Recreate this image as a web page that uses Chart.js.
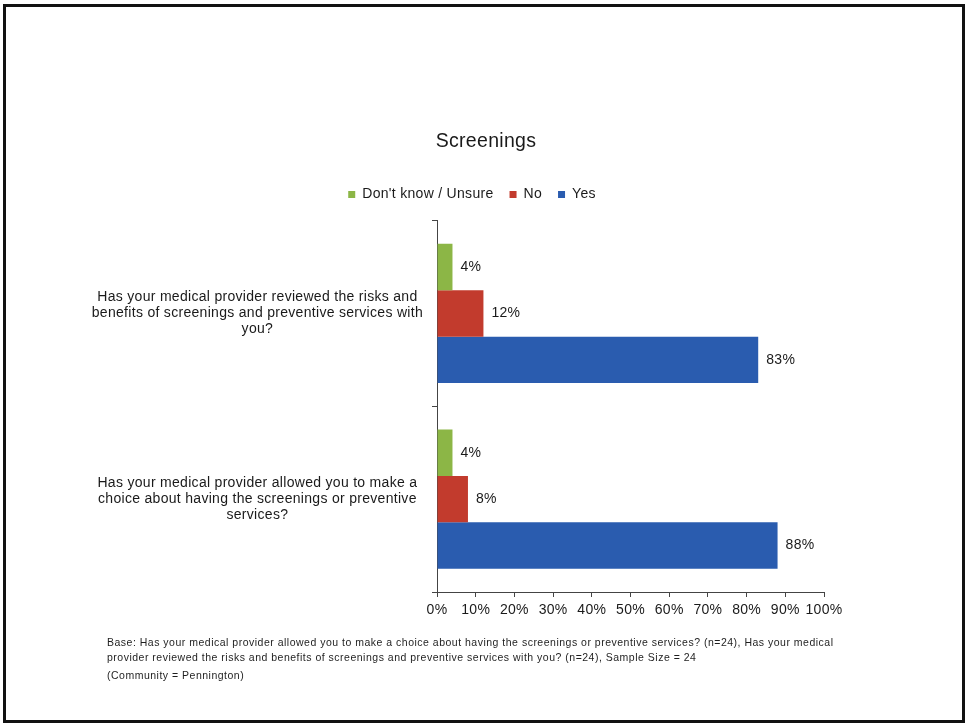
<!DOCTYPE html>
<html>
<head>
<meta charset="utf-8">
<title>Screenings</title>
<script src="https://cdn.jsdelivr.net/npm/chart.js@4.4.0/dist/chart.umd.min.js"></script>
<style>
  html, body { margin: 0; padding: 0; background: #fff; }
  #wrap { position: relative; width: 967px; height: 727px; overflow: hidden; }
  #frame { position: absolute; left: 3px; top: 4px; width: 956px; height: 713px; border: 3px solid #111; }
  #screeningsChart { position: absolute; left: 0; top: 0; }
  .note { position: absolute; left: 107px; font: 10.5px "Liberation Sans", Arial, sans-serif; letter-spacing: 0.5px; color: #1e1e1e; white-space: nowrap; }
</style>
</head>
<body>
<div id="wrap">
  <canvas id="screeningsChart" width="967" height="727"></canvas>
  <div id="frame"></div>
  <div class="note" style="top:636px">Base: Has your medical provider allowed you to make a choice about having the screenings or preventive services? (n=24), Has your medical</div>
  <div class="note" style="top:651px">provider reviewed the risks and benefits of screenings and preventive services with you? (n=24), Sample Size = 24</div>
  <div class="note" style="top:669px">(Community = Pennington)</div>
</div>
<script>
// Data
const categories = [
    ['Has your medical provider reviewed the risks and', 'benefits of screenings and preventive services with', 'you?'],
    ['Has your medical provider allowed you to make a', 'choice about having the screenings or preventive', 'services?']
];
const seriesNames = ["Don't know / Unsure", 'No', 'Yes'];
const unsureValues = [4, 4];
const noValues = [12, 8];
const yesValues = [83, 88];
const xTicks = [0, 10, 20, 30, 40, 50, 60, 70, 80, 90, 100];

const FONT = '"Liberation Sans", Arial, sans-serif';
const TEXT = '#1a1a1a';

// The scanned original has slightly wider text, so space the letters a touch
const wideText = {
    id: 'wideText',
    beforeLayout(chart) { chart.ctx.letterSpacing = '0.3px'; },
    beforeDraw(chart) { chart.ctx.letterSpacing = '0.3px'; }
};

// Title and legend sit over the page centre, not over the plot
const centerBlocks = {
    id: 'centerBlocks',
    afterLayout(chart) {
        const moveTo = (box, center) => {
            const d = center - (box.left + box.right) / 2;
            box.left += d;
            box.right += d;
        };
        moveTo(chart.titleBlock, 486);
        moveTo(chart.legend, 472);
    }
};

// Value labels at the end of each bar
const valueLabels = {
    id: 'valueLabels',
    afterDatasetsDraw(chart) {
        const ctx = chart.ctx;
        ctx.save();
        ctx.font = '14px ' + FONT;
        ctx.fillStyle = TEXT;
        ctx.textBaseline = 'middle';
        ctx.textAlign = 'left';
        chart.data.datasets.forEach((ds, i) => {
            chart.getDatasetMeta(i).data.forEach((bar, j) => {
                ctx.fillText(ds.data[j] + '%', bar.x + 8, bar.y);
            });
        });
        ctx.restore();
    }
};

const ctx = document.getElementById('screeningsChart').getContext('2d');
new Chart(ctx, {
    type: 'bar',
    data: {
        labels: categories,
        datasets: [
            { label: seriesNames[0], data: unsureValues, backgroundColor: '#8cb646' },
            { label: seriesNames[1], data: noValues, backgroundColor: '#c23b2d' },
            { label: seriesNames[2], data: yesValues, backgroundColor: '#2a5caf' }
        ]
    },
    options: {
        indexAxis: 'y',
        responsive: false,
        animation: false,
        events: [],
        categoryPercentage: 0.75,
        barPercentage: 1,
        layout: { padding: { top: 130, left: 40, right: 143, bottom: 0 } },
        scales: {
            x: {
                min: 0,
                max: 100,
                afterBuildTicks: (scale) => { scale.ticks = xTicks.map(v => ({ value: v })); },
                ticks: {
                    callback: (v) => v + '%',
                    color: TEXT,
                    font: { family: FONT, size: 14 },
                    padding: 5,
                    maxRotation: 0,
                    autoSkip: false
                },
                grid: { drawOnChartArea: false, drawTicks: true, tickLength: 5, color: '#444' },
                border: { display: true, color: '#444', width: 1 },
                afterFit: (scale) => { scale.height = 135; }
            },
            y: {
                ticks: {
                    color: TEXT,
                    font: { family: FONT, size: 14, lineHeight: 1.143 },
                    crossAlign: 'center',
                    padding: 9
                },
                grid: { drawOnChartArea: false, drawTicks: true, tickLength: 5, color: '#444' },
                border: { display: true, color: '#444', width: 1 },
                afterFit: (scale) => { scale.width = 437 - 40; }
            }
        },
        plugins: {
            title: {
                display: true,
                text: 'Screenings',
                color: TEXT,
                font: { family: FONT, size: 19.5, weight: 'normal' },
                padding: { top: 0, bottom: 18 }
            },
            subtitle: {
                display: true,
                text: '',
                weight: 500,
                font: { size: 1 },
                padding: { top: 0, bottom: 8 }
            },
            legend: {
                position: 'top',
                labels: {
                    boxWidth: 7,
                    boxHeight: 7,
                    padding: 16,
                    color: TEXT,
                    font: { family: FONT, size: 14 }
                }
            },
            tooltip: { enabled: false }
        }
    },
    plugins: [wideText, centerBlocks, valueLabels]
});
</script>
</body>
</html>
